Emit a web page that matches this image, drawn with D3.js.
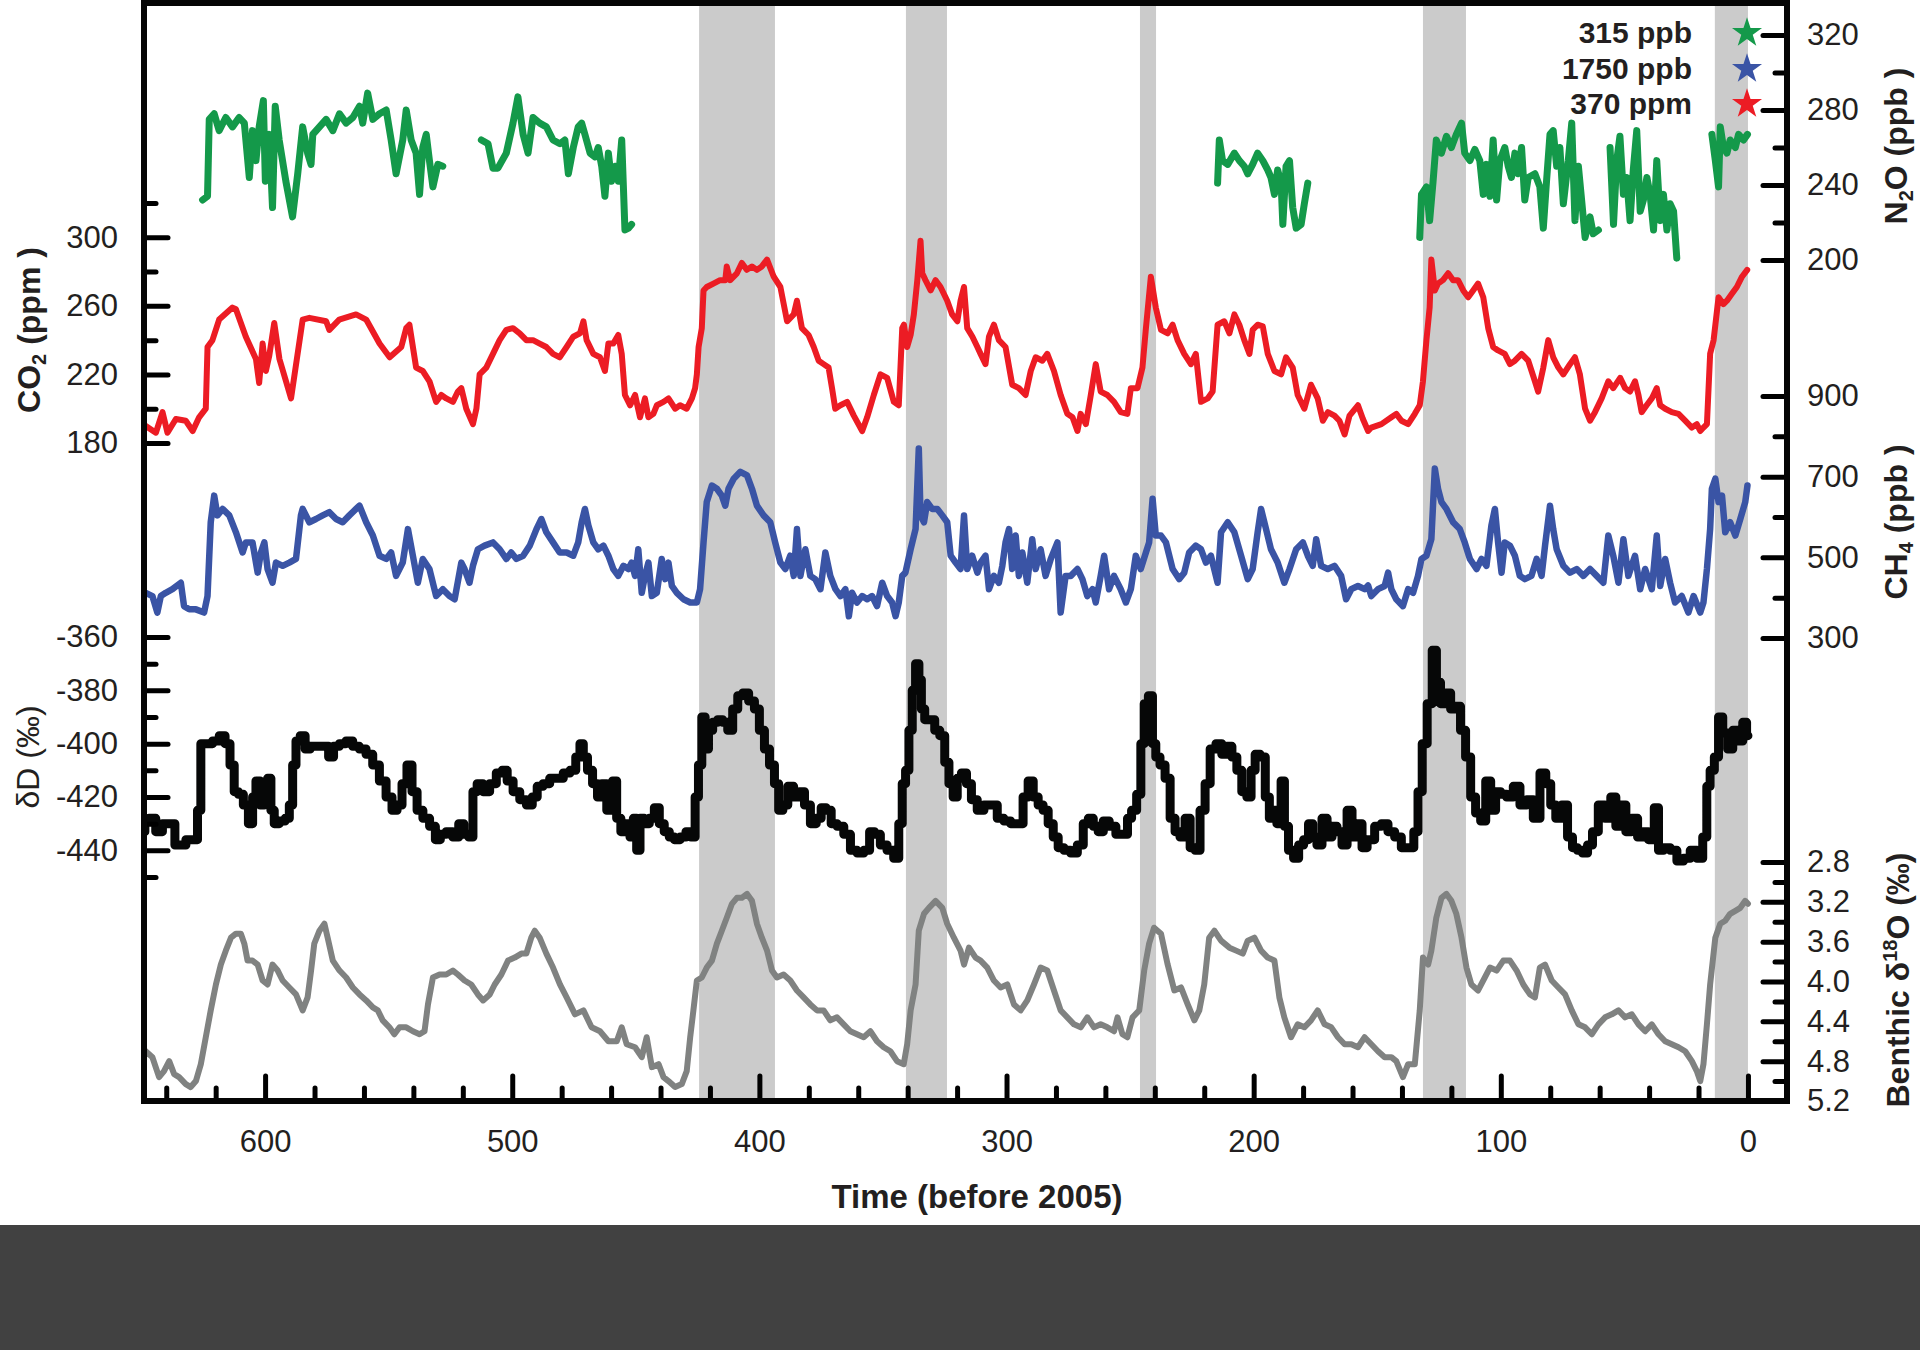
<!DOCTYPE html>
<html><head><meta charset="utf-8">
<script src="https://cdn.jsdelivr.net/npm/d3@7"></script>
<style>
html,body{margin:0;padding:0;background:#fff;}
svg{display:block;font-family:"Liberation Sans",Arial,Helvetica,sans-serif;}
</style></head><body>
<svg id="chart" width="1920" height="1350"></svg>
<script>
// ---------- tick values ----------
const timeMajorTicks = [600,500,400,300,200,100,0];
const timeMinorTicks = [640,620,580,560,540,520,480,460,440,420,380,360,340,320,280,260,240,220,180,160,140,120,80,60,40,20];
const co2MajorTicks = [180,220,260,300];
const co2MinorTicks = [200,240,280,320];
const dDMajorTicks = [-440,-420,-400,-380,-360];
const dDMinorTicks = [-450,-430,-410,-390,-370];
const n2oMajorTicks = [200,240,280,320];
const n2oMinorTicks = [220,260,300];
const ch4MajorTicks = [300,500,700,900];
const ch4MinorTicks = [400,600,800];
const d18OMajorTicks = [2.8,3.2,3.6,4.0,4.4,4.8,5.2];
const d18OMinorTicks = [3.0,3.4,3.8,4.2,4.6,5.0];

// interglacial periods (kyr before 2005)
const interglacials = [[424.4,393.7],[340.7,324.1],[246,239.5],[131.5,114.1],[13.4,0]];

// modern values legend
const modernLabels = ["315 ppb","1750 ppb","370 ppm"];

// ---------- records: [age (kyr), value] ----------
const n2oRecord = [[625.3,232],[623.3,234],[622.6,275],[620.6,278],[618.6,269],[615.9,276],[613.2,271],[610.5,276],[608.4,273],[606.4,244],[605.1,269],[603.7,253],[602.4,271],[600.7,285],[599.9,242],[598.3,267],[597,228],[595.9,282],[594.3,264],[591.6,242],[588.9,223],[586.8,246],[584.8,271],[582.8,257],[581.4,251],[580.7,267],[578,271],[575.3,275],[572.6,269],[569.9,278],[567.2,273],[564.5,276],[561.8,282],[560.5,273],[558.5,289],[556.4,275],[553.7,278],[551,280],[549,264],[547,246],[544.3,264],[542.9,280],[540.9,264],[538.9,257],[537.5,235],[536.2,260],[534.8,267],[533.5,253],[532.1,239],[530.1,251],[528.1,250],[520,null],
[512.5,264],[509.8,262],[507.8,249],[505.8,249],[502.4,257],[499.7,273],[497.7,287],[495.6,267],[493.6,257],[491.6,276],[488.9,273],[486.2,271],[483.5,264],[480.7,262],[478.7,264],[477.3,246],[475.3,260],[473.3,271],[471.9,273],[470.6,267],[468.5,257],[466.5,255],[465.2,260],[463.8,250],[462.5,234],[461.1,257],[459.8,242],[458.4,250],[457.1,242],[455.7,264],[454.4,216],[453,217],[451.7,219],[300,null],
[214.6,241],[213.9,264],[212.6,253],[210.5,251],[207.8,257],[205.8,253],[203.8,250],[202.4,246],[200.4,251],[198.4,257],[196.3,253],[194.3,248],[193,244],[191.6,235],[190.3,248],[188.9,241],[188.2,219],[186.9,250],[185.5,253],[184.2,228],[182.8,217],[180.8,219],[179.5,230],[178.1,241],[150,null],
[132.8,212],[132.1,235],[130.1,239],[128.8,221],[127.4,242],[126.1,264],[124,257],[122,266],[120,260],[118,267],[115.9,273],[114.6,257],[112.5,253],[110.5,259],[108.5,253],[107.1,235],[105.8,251],[104.4,234],[103.1,264],[101.7,232],[100.4,253],[98.4,260],[97,250],[95.7,244],[94.3,257],[93,246],[91.6,260],[90.3,232],[88.9,244],[86.2,246],[84.2,239],[82.8,217],[81.5,242],[80.1,267],[78.8,269],[77.4,250],[76.1,260],[74.7,230],[72.7,253],[71.3,273],[70,221],[68.6,250],[67.3,232],[65.9,212],[63.9,223],[62.6,214],[60.5,216],[58,null],
[55.8,260],[54.4,219],[53.1,253],[51.8,266],[50.4,235],[49.1,244],[47.7,221],[46.4,248],[45,269],[43.6,226],[42.3,232],[40.9,244],[39.6,235],[38.2,216],[36.9,253],[35.5,221],[34.2,235],[32.8,216],[31.5,230],[30.1,226],[28.8,201],[20,null],
[14.6,267],[13.2,253],[11.9,239],[11.2,271],[9.9,260],[8.5,257],[7.2,264],[5.1,260],[3.8,267],[1.8,264],[0.2,267]];

const co2Record = [[648.4,190],[644.2,186],[641.5,198],[639.5,186],[636.1,194],[632.1,193],[629.3,187],[626.7,195],[624,200],[623.3,236],[621.3,240],[618.6,252],[613.2,259],[611.8,258],[607.8,242],[603.7,229],[602.4,215],[601,238],[599.7,222],[598.3,231],[596.3,250],[594.2,229],[589.5,206],[584.8,252],[582.1,253],[575.3,251],[574,246],[570,252],[563.2,255],[559.1,252],[553.7,238],[549.6,230],
[544.9,236],[542.9,247],[541.6,249],[538.9,224],[536.2,222],[533.5,216],[530.8,204],[528.7,208],[526.7,206],[524,204],[522,210],[520.6,212],[518.6,200],[515.9,191],[514.5,200],[513.2,220],[510.5,224],[507.8,232],[505.1,240],[502.4,246],[499.7,247],[497,244],[494.3,240],[491.6,240],[488.9,238],[486.2,236],[483.5,232],[480.8,230],
[478,236],[475.3,242],[472.6,244],[471.2,251],[469.9,240],[467.2,232],[464.5,230],[462.5,222],[461.1,238],[459.1,238],[457.1,243],[455.7,232],[454.4,208],[452.3,202],[450.3,208],[448.3,195],[446.3,206],[444.9,195],[442.9,197],[441.5,202],[438.8,204],[436.8,206],[434.1,200],[432.1,202],[429.4,200],[427.3,206],[426,212],[425.3,220],[424.6,236],[423.3,247],[422.6,269],[421.3,271],[418.6,273],[415.9,275],[413.8,275],[413.2,283],[411.8,275],[409.1,279],[407.1,285],[405.1,281],[403,283],[401,281],[399,283],[396.9,287],[394.2,277],[391.5,271],[388.8,251],[386.1,255],[384.8,263],[382.8,247],[380.1,243],[378,236],[376,228],[374,226],[372,224],[370.6,212],[369.3,200],[367.2,202],[364.5,204],[361.8,196],[358.4,187],[356.4,195],[353.7,208],[351,220],[348.3,218],[345.6,204],[343.6,202],[342.2,247],[341.5,249],[340.2,236],[338.8,243],[337.5,255],[336.1,275],[334.8,298],[334.1,279],[332.8,275],[330.7,269],[328.7,275],[326.7,271],[324,263],[322,255],[319.9,251],[318.6,263],[317.2,271],[315.9,247],[313.8,242],[311.8,236],[310.5,232],
[308.5,226],[307.1,242],[305.1,249],[303.1,240],[300.4,236],[297.7,214],[295,212],[292.3,208],[290.2,222],[288.2,230],[285.5,228],[283.5,232],[280.8,222],[278.1,208],[275.4,197],[273.3,195],[271.3,187],[270,197],[267.9,191],[265.9,208],[263.9,226],[261.9,210],[259.2,208],[256.5,204],[253.8,198],[251.1,197],[249.7,212],[247,212],[245,224],[243.6,247],[241.6,277],[239.6,259],[237.5,246],[234.8,244],[232.8,249],[230.8,240],[228.1,232],[225.4,226],[223.4,232],[221.3,204],[218.6,206],[216.6,210],[214.6,249],[211.9,251],[209.8,244],[207.8,255],[205.8,249],[203.8,240],[201.7,232],[200.4,246],[198.4,249],[196.3,248],[194.3,232],[191.6,222],[188.9,220],[186.9,230],[184.2,224],[182.2,208],[179.5,200],[176.8,214],[174.1,206],[172,193],[170,198],[167.3,196],[165.3,193],[163.2,185],[161.2,196],[157.8,202],[155.8,194],[153.7,187],
[152.4,189],[148.3,191],[144.3,195],[142.3,197],[140.2,193],[137.5,191],[134.8,197],[132.8,202],[131.5,216],[130.1,240],[128.8,259],[128.1,287],[126.7,269],[125.4,273],[123.4,275],[121.3,279],[119.3,275],[117.3,275],[115.2,269],[113.2,265],[111.2,269],[109.2,273],[107.1,265],[105.1,247],[103.1,236],[101.1,234],[98.4,232],[96.3,226],[94.3,228],[91.6,232],[88.9,228],[86.2,216],[84.9,210],[82.8,224],[80.8,240],[78.8,230],[76.7,224],[74.7,220],[72,226],[70,230],[68,220],[65.9,200],[63.9,193],[61.9,198],[59.2,206],[56.5,216],[54.5,212],[51.7,218],[49.7,212],[47.7,210],[45.7,216],[44.3,208],[43,198],[41,202],[38.9,206],[36.9,212],[35.5,202],[33.5,200],[30.8,198],[28.1,197],[25.4,193],[22.7,189],[20.7,191],[19.3,187],[18,189],[16.6,191],[15.3,232],[13.9,240],[11.9,265],[9.9,261],[8.5,263],[6.5,267],[4.5,271],[2.4,277],[0.3,281]];

const ch4Record = [[648.3,412],[645.6,404],[643.6,363],[642.2,404],[640.2,412],[637.5,421],[634.1,437],[632.8,379],[630.7,371],[628,371],[624.7,363],[623.3,404],[622,587],[620.6,653],[619.3,604],[617.2,620],[614.5,604],[611.8,562],[609.1,512],[607.8,537],[605.1,537],[603,462],[601.7,512],[600.3,537],[599,471],[597,437],[595.6,487],[592.9,479],[590.2,487],[587.5,496],[585.5,604],[584.8,620],[582.1,587],[579.4,595],[576.7,604],[574,612],[571.3,595],[568.6,587],[565.9,604],[563.2,620],[561.8,628],[559.1,587],[556.4,554],[553.7,504],[551,496],[549,512],[547,454],[544.3,487],[542.2,570],[540.2,504],[538.2,437],[536.2,496],[533.5,471],[530.8,404],[528.1,421],[525.4,404],[523.3,396],[520.6,487],[519.3,471],[517.3,437],[515.9,479],[513.9,520],[511.2,529],[507.8,537],[505.1,520],[502.4,496],[500.4,512],[498.3,496],[495.6,504],[492.9,529],[490.2,570],[488.2,595],[486.2,562],[483.5,537],[480.8,512],
[478,512],[475.3,504],[473.3,537],[471.9,587],[470.6,620],[469.2,579],[467.2,537],[465.2,520],[463.1,529],[461.1,504],[459.1,471],[457.1,454],[455,479],[453,471],[451.7,487],[450.3,454],[449,520],[447.6,412],[446.3,454],[444.9,487],[443.5,404],[441.5,412],[439.5,496],[438.1,446],[436.8,487],[435.4,429],[433.4,412],[430.7,396],[428,388],[425.3,388],[424,421],[422.6,537],[421.3,637],[419.2,678],[417.2,670],[415.2,653],[413.8,628],[412.5,670],[410.4,695],[407.7,712],[405,703],[403,670],[401,628],[398.3,604],[395.6,587],[393.6,537],[391.5,487],[389.5,471],[387.5,504],[386.1,454],[384.8,570],[383.4,454],[381.4,520],[379.4,454],[377.4,446],[375.3,421],[373.3,512],[371.3,454],[369.2,421],[367.2,404],[365.2,421],[363.8,354],[362.5,412],[360.5,388],[358.4,404],[356.4,396],[354.4,404],[352.4,379],[350.3,437],[348.3,404],[346.3,388],[344.9,354],[343.6,388],[342.2,454],[340.9,462],[338.8,520],[336.8,570],[335.5,770],[334.8,604],[333.4,587],[332.1,637],[330.1,620],[328,620],[326,604],[324,587],[322.6,504],[320.6,487],[318.6,471],[317.2,604],[315.9,471],[313.9,504],[311.8,462],[310.5,487],
[308.5,504],[307.1,421],[305.1,454],[303.1,437],[301.7,479],[300.4,537],[299,570],[297.7,471],[296.3,554],[295,454],[293.6,512],[291.6,437],[289.6,545],[288.2,471],[286.2,520],[284.2,454],[282.1,496],[279.4,537],[278.1,363],[276.1,454],[274,454],[271.3,471],[269.3,446],[267.3,404],[265.2,421],[263.9,388],[261.9,454],[260.5,504],[258.5,421],[256.5,454],[253.8,421],[251.7,388],[249.7,421],[247.7,504],[245.7,471],[243.6,512],[242.3,537],[240.9,645],[239.6,554],[237.5,554],[235.5,537],[232.8,471],[230.1,446],[228.1,462],[226.1,512],[223.4,529],[221.3,520],[219.3,487],[217.3,504],[214.6,437],[213.2,562],[210.5,587],[207.8,562],[205.1,504],[202.4,446],[200.4,471],[198.4,562],[197,620],[195,570],[193,520],[190.3,487],[187.6,437],[185.5,471],[182.8,520],[180.1,537],[178.1,504],[176.1,479],[174.7,545],[172.7,479],[170,471],[167.3,479],[164.6,454],[162.6,396],[160.5,421],[157.8,429],[155.1,421],[153.7,430],
[152.4,404],[149.7,421],[147,429],[145.6,462],[144.3,421],[142.3,396],[139.6,379],[137.5,421],[135.5,412],[133.5,454],[132.1,496],[130.1,504],[128.1,545],[126.7,720],[125.4,670],[124,637],[122,620],[119.3,587],[116.6,570],[114.6,537],[112.5,496],[109.8,471],[107.8,496],[105.8,479],[103.8,579],[102.4,620],[101.1,537],[99.7,462],[98.4,537],[96.3,529],[94.3,504],[92.3,454],[90.3,446],[87.6,454],[85.5,496],[83.5,454],[82.1,529],[80.1,628],[78.8,570],[77.4,520],[74.7,479],[72,462],[69.3,471],[66.6,454],[63.9,471],[61.2,454],[58.5,437],[56.5,554],[54.5,504],[52.4,437],[50.4,545],[48.4,454],[45.7,504],[43.6,421],[41.6,471],[38.9,421],[36.9,554],[35.5,429],[33.5,496],[31.5,437],[29.5,388],[26.8,404],[24.1,363],[22,404],[19.3,363],[18,388],[16.6,471],[15.3,570],[14.6,670],[13.2,695],[11.9,637],[10.5,653],[9.2,562],[7.2,587],[5.1,554],[3.1,595],[1.1,637],[0.2,678]];

const dDRecord = [[649,-433],[648.3,-429],[645.6,-428],[642.9,-433],[640.2,-430],[637.5,-430],[635.5,-438],[633.4,-438],[630.7,-436],[628,-436],[626.7,-425],[625.3,-400],[622.6,-400],[619.9,-399],[617.2,-397],[615.2,-400],[613.2,-408],[611.8,-418],[609.8,-419],[607.8,-423],[605.7,-430],[604.4,-420],[603,-414],[601,-423],[599.7,-415],[598.3,-413],[597,-425],[595.6,-430],[592.9,-429],[590.9,-428],[589.5,-423],[588.2,-408],[586.8,-399],[584.8,-397],[582.8,-402],[580.7,-401],[578,-401],[575.3,-401],[573.3,-405],[571.3,-401],[568.6,-400],[565.9,-399],[563.2,-401],[560.5,-402],[557.8,-404],[555.1,-408],[552.4,-414],[549.7,-420],[547.6,-425],[545.6,-423],[543.6,-415],[541.6,-408],[539.5,-418],[537.5,-425],[534.8,-428],[532.1,-431],[530.1,-436],[528.1,-434],[525.4,-433],[522.7,-435],[520.6,-430],[518.6,-434],[516.6,-435],[515.2,-418],[513.2,-415],[510.5,-418],[507.8,-415],[505.1,-411],[503.1,-410],[501,-414],[498.3,-418],[495.6,-421],[492.9,-423],[490.9,-420],[488.9,-416],[486.2,-415],[483.5,-413],
[480.7,-413],[478,-411],[475.3,-410],[473.3,-405],[471.9,-400],[470.6,-405],[468.5,-410],[466.5,-415],[464.5,-420],[463.1,-415],[460.4,-425],[458.4,-414],[457.1,-428],[455,-433],[453,-430],[451.7,-435],[450.3,-428],[449,-440],[447.6,-428],[445.6,-430],[443.5,-428],[441.5,-424],[439.5,-430],[437.5,-433],[435.4,-435],[433.4,-436],[430.7,-435],[428.7,-433],[426.7,-435],[425.3,-420],[424,-408],[422.6,-390],[421.3,-402],[419.9,-395],[417.9,-392],[415.9,-391],[413.8,-392],[411.8,-395],[409.8,-387],[407.7,-382],[405.7,-381],[403,-384],[401,-387],[399,-395],[396.9,-402],[394.9,-408],[392.9,-415],[391.5,-425],[389.5,-423],[387.5,-416],[384.8,-420],[382.8,-418],[380.7,-423],[378,-430],[376,-428],[374,-424],[372,-425],[369.9,-430],[367.2,-431],[364.5,-434],[361.8,-440],[359.1,-441],[356.4,-440],[354.4,-433],[352.4,-434],[349.7,-438],[347,-440],[344.3,-443],[342.9,-430],[341.5,-415],[340.2,-410],[338.8,-395],[337.5,-380],[336.1,-370],[334.8,-376],[334.1,-387],[332.1,-391],[330.1,-391],[328,-395],[326,-397],[324,-407],[322.6,-415],[320.6,-420],[319.3,-413],[317.2,-411],[315.2,-415],[313.2,-421],[310.5,-425],
[307.8,-423],[305.1,-423],[302.4,-428],[299.7,-429],[297,-430],[294.3,-430],[292.3,-420],[290.2,-414],[288.2,-420],[286.2,-423],[284.2,-425],[282.1,-430],[280.1,-435],[278.1,-439],[275.4,-440],[272.7,-441],[270,-438],[267.9,-430],[265.9,-428],[263.9,-431],[261.9,-433],[259.8,-429],[257.1,-431],[254.4,-434],[251.7,-434],[250.4,-428],[248.4,-425],[246.3,-419],[245,-400],[243.6,-385],[241.6,-382],[240.3,-400],[238.9,-405],[236.9,-408],[234.8,-413],[232.8,-428],[230.8,-433],[228.8,-435],[226.7,-428],[224.7,-439],[222.7,-440],[220.7,-425],[218.6,-415],[216.6,-402],[213.9,-400],[211.9,-404],[209.8,-401],[207.8,-405],[205.8,-410],[203.8,-418],[201.7,-420],[200.4,-410],[198.4,-404],[196.3,-405],[194.3,-420],[193,-428],[191.6,-425],[189.6,-430],[188.2,-414],[186.9,-431],[184.9,-440],[182.8,-443],[180.8,-438],[178.8,-436],[176.8,-430],[175.4,-435],[173.4,-438],[171.3,-428],[169.3,-435],[167.3,-431],[165.3,-433],[163.2,-438],[161.2,-425],[159.2,-435],[157.2,-430],[155.1,-439],[153.1,-436],
[152.4,-436],[149.7,-431],[147,-430],[144.3,-433],[141.6,-435],[138.9,-439],[136.2,-439],[134.2,-433],[132.8,-418],[130.8,-400],[128.8,-385],[126.7,-365],[125.4,-377],[123.4,-385],[121.3,-381],[119.3,-387],[117.3,-386],[115.3,-395],[113.2,-405],[111.2,-420],[109.2,-426],[107.1,-429],[105.1,-414],[103.1,-425],[101.1,-418],[99,-419],[96.3,-420],[93.6,-416],[90.9,-423],[88.2,-421],[85.5,-428],[82.8,-411],[80.8,-415],[78.8,-423],[76.7,-428],[74,-423],[72,-435],[70,-439],[68,-440],[65.9,-441],[63.9,-438],[61.9,-433],[59.2,-423],[56.5,-428],[54.5,-420],[52.4,-431],[50.4,-423],[48.4,-433],[45.7,-428],[43.6,-435],[41.6,-433],[38.9,-436],[36.9,-424],[35.5,-440],[32.8,-439],[30.1,-440],[27.4,-444],[24.7,-443],[22,-440],[19.3,-443],[17.3,-435],[16,-416],[14.6,-410],[12.6,-405],[11.2,-390],[9.2,-396],[7.2,-402],[5.1,-395],[3.1,-399],[1.1,-392],[0,-397]];

const d18ORecord = [[649,4.76],[648.3,4.70],[645.6,4.76],[642.9,4.96],[640.9,4.90],[638.8,4.80],[636.8,4.93],[634.8,4.96],[632.1,5.03],[630.1,5.06],[628,5.00],[626,4.83],[624,4.56],[622,4.29],[619.9,4.03],[617.9,3.83],[615.9,3.69],[613.8,3.56],[611.8,3.52],[609.8,3.52],[608.4,3.62],[607.1,3.79],[605.1,3.79],[603,3.83],[601,3.99],[599,4.03],[597,3.83],[594.9,3.89],[592.9,3.99],[590.2,4.06],[587.5,4.13],[584.8,4.29],[582.8,4.16],[581.4,3.89],[580.1,3.62],[578,3.49],[576,3.42],[574.7,3.56],[572.6,3.79],[569.9,3.89],[567.2,3.96],[564.5,4.06],[561.8,4.13],[559.1,4.19],[556.4,4.26],[554.4,4.29],[552.4,4.39],[549.7,4.46],[547.7,4.53],[545.6,4.46],[542.9,4.46],[540.2,4.50],[537.5,4.53],[535.5,4.50],[534.1,4.23],[532.1,3.96],[529.4,3.93],[526.7,3.93],[524,3.89],[522,3.93],[519.3,3.99],[516.6,4.03],[513.9,4.13],[511.8,4.19],[509.1,4.13],[507.1,4.03],[504.4,3.93],[501.7,3.79],[499,3.76],[496.3,3.72],[494.3,3.72],[492.3,3.56],[490.9,3.49],[488.9,3.56],[486.2,3.72],[483.5,3.86],
[480.7,4.03],[478,4.16],[474.6,4.33],[471.2,4.29],[467.9,4.46],[464.5,4.50],[461.1,4.60],[457.7,4.60],[455.7,4.46],[453.7,4.63],[450.3,4.66],[447.6,4.76],[445.6,4.56],[443.5,4.86],[440.8,4.83],[438.8,4.96],[436.8,5.00],[434.1,5.06],[431.4,5.03],[429.4,4.90],[428,4.56],[426.7,4.29],[425.3,3.99],[423.3,3.96],[421.3,3.86],[419.2,3.79],[417.2,3.62],[415.2,3.49],[413.2,3.36],[411.1,3.22],[409.1,3.16],[407.1,3.16],[405,3.12],[403,3.19],[401,3.42],[399,3.56],[396.9,3.69],[394.9,3.89],[392.9,3.96],[390.2,3.93],[387.5,3.99],[384.8,4.09],[382.1,4.16],[379.4,4.23],[376.7,4.29],[374,4.29],[371.3,4.39],[368.6,4.36],[365.9,4.43],[363.2,4.50],[360.5,4.53],[357.8,4.56],[355.1,4.50],[352.4,4.60],[349.7,4.66],[347,4.70],[344.3,4.80],[341.6,4.83],[340.2,4.63],[338.8,4.29],[336.8,4.03],[335.5,3.49],[333.4,3.32],[331.4,3.26],[328.7,3.19],[326,3.26],[324,3.42],[321.3,3.56],[318.6,3.69],[317.2,3.83],[315.2,3.66],[312.5,3.76],[310.5,3.79],
[307.8,3.86],[305.1,3.99],[302.4,4.06],[299.7,4.03],[297,4.23],[294.3,4.29],[291.6,4.19],[288.9,4.03],[286.2,3.86],[283.5,3.89],[280.8,4.09],[278.1,4.29],[275.4,4.36],[272.7,4.43],[270,4.46],[267.3,4.36],[264.6,4.46],[261.9,4.43],[259.2,4.46],[256.5,4.50],[255.1,4.36],[253.1,4.53],[251.1,4.56],[249,4.36],[246.3,4.29],[244.3,3.89],[242.3,3.62],[240.3,3.46],[237.5,3.52],[234.8,3.83],[232.1,4.09],[229.4,4.06],[226.7,4.23],[224,4.39],[222,4.29],[220,4.03],[218,3.56],[215.9,3.49],[213.2,3.59],[209.8,3.66],[207.1,3.69],[204.4,3.72],[202.4,3.59],[199.7,3.56],[197,3.69],[194.3,3.76],[191.6,3.79],[189.6,4.16],[187.6,4.36],[184.9,4.56],[182.2,4.43],[179.5,4.46],[176.8,4.39],[174.1,4.29],[171.3,4.43],[168.6,4.46],[165.9,4.56],[163.2,4.63],[160.5,4.63],[157.8,4.66],[155.1,4.56],
[152.4,4.63],[149.7,4.70],[147,4.76],[144.3,4.76],[142.3,4.80],[139.6,4.96],[137.5,4.83],[134.8,4.83],[132.8,4.29],[131.5,3.76],[129.4,3.83],[128.1,3.69],[126.1,3.36],[124,3.16],[122,3.12],[120,3.19],[118,3.32],[115.9,3.56],[113.9,3.86],[111.9,4.03],[109.2,4.09],[106.5,3.96],[104.4,3.86],[101.7,3.89],[99,3.79],[96.3,3.79],[93.6,3.89],[90.9,4.03],[88.2,4.13],[86.2,4.16],[84.2,3.86],[82.1,3.83],[79.4,3.99],[76.7,4.06],[74,4.13],[71.3,4.29],[68.6,4.43],[65.9,4.46],[63.2,4.53],[60.5,4.43],[57.8,4.36],[55.1,4.33],[52.4,4.29],[49.7,4.36],[47,4.33],[44.3,4.43],[41.6,4.50],[38.9,4.43],[36.2,4.53],[33.5,4.60],[30.8,4.63],[28.1,4.66],[25.4,4.70],[22.7,4.80],[20.7,4.90],[19.3,5.00],[18,4.83],[16.6,4.43],[15.3,4.03],[13.2,3.56],[11.2,3.42],[9.2,3.39],[7.2,3.32],[5.1,3.29],[3.1,3.26],[1.1,3.19],[0,3.22]];

// ---------- drawing ----------
const W = 1920, H = 1350;
const L = 144, R = 1787, T = 3, B = 1101;
const GREEN = "#14994a", RED = "#ec1c24", BLUE = "#3a54a5", BLACK = "#060707", GREY = "#808281";
const TXT = "#231f20";

const svg = d3.select("#chart");
svg.append("rect").attr("width", W).attr("height", H).attr("fill", "#fff");

const x = d3.scaleLinear().domain([649, -15.8]).range([L, R]);
const yN2O = d3.scaleLinear().domain([200, 320]).range([260, 35]);
const yCO2 = d3.scaleLinear().domain([180, 320]).range([443, 203]);
const yCH4 = d3.scaleLinear().domain([300, 900]).range([638, 396]);
const ydD  = d3.scaleLinear().domain([-450, -360]).range([877, 637]);
const yO18 = d3.scaleLinear().domain([2.8, 5.2]).range([862, 1101]);

svg.append("defs").append("clipPath").attr("id", "plotclip")
  .append("rect").attr("x", L).attr("y", T).attr("width", R - L).attr("height", B - T);

// interglacial bands
svg.append("g").selectAll("rect").data(interglacials).join("rect")
  .attr("x", d => x(d[0])).attr("width", d => x(d[1]) - x(d[0]))
  .attr("y", T).attr("height", B - T).attr("fill", "#cbcbcb");

const plot = svg.append("g").attr("clip-path", "url(#plotclip)");
function drawLine(data, yScale, color, width, curve) {
  const line = d3.line()
    .defined(d => d[1] !== null)
    .x(d => x(d[0])).y(d => yScale(d[1]))
    .curve(curve || d3.curveLinear);
  plot.append("path").datum(data)
    .attr("d", line).attr("fill", "none")
    .attr("stroke", color).attr("stroke-width", width)
    .attr("stroke-linejoin", "round").attr("stroke-linecap", "round");
}
drawLine(n2oRecord, yN2O, GREEN, 7);
drawLine(co2Record, yCO2, RED, 6);
drawLine(ch4Record, yCH4, BLUE, 6.5);
drawLine(dDRecord, ydD, BLACK, 9, d3.curveStep);
drawLine(d18ORecord, yO18, GREY, 6);

// ---------- axes ----------
function ticks(axis, tx, ty) {
  const g = svg.append("g").attr("transform", `translate(${tx},${ty})`).call(axis);
  g.select(".domain").remove();
  g.selectAll(".tick line").attr("stroke", "#000").attr("stroke-width", 5).attr("stroke-linecap", "round");
  return g;
}
function labels(axis, tx, ty) {
  const g = svg.append("g").attr("transform", `translate(${tx},${ty})`).call(axis);
  g.select(".domain").remove();
  g.selectAll(".tick line").remove();
  g.attr("font-size", 31).attr("font-family", '"Liberation Sans", Arial, sans-serif');
  g.selectAll("text").attr("fill", TXT);
  return g;
}
const MAJ = 24, MIN = 12;
// left: CO2
ticks(d3.axisRight(yCO2).tickValues(co2MajorTicks).tickSize(MAJ).tickFormat(""), L, 0);
ticks(d3.axisRight(yCO2).tickValues(co2MinorTicks).tickSize(MIN).tickFormat(""), L, 0);
labels(d3.axisLeft(yCO2).tickValues(co2MajorTicks).tickSize(0).tickPadding(26), L, 0);
// left: dD
ticks(d3.axisRight(ydD).tickValues(dDMajorTicks).tickSize(MAJ).tickFormat(""), L, 0);
ticks(d3.axisRight(ydD).tickValues(dDMinorTicks).tickSize(MIN).tickFormat(""), L, 0);
labels(d3.axisLeft(ydD).tickValues(dDMajorTicks).tickSize(0).tickPadding(26).tickFormat(d => "-" + Math.abs(d)), L, 0);
// right: N2O
ticks(d3.axisLeft(yN2O).tickValues(n2oMajorTicks).tickSize(MAJ).tickFormat(""), R, 0);
ticks(d3.axisLeft(yN2O).tickValues(n2oMinorTicks).tickSize(MIN).tickFormat(""), R, 0);
labels(d3.axisRight(yN2O).tickValues(n2oMajorTicks).tickSize(0).tickPadding(20), R, 0);
// right: CH4
ticks(d3.axisLeft(yCH4).tickValues(ch4MajorTicks).tickSize(MAJ).tickFormat(""), R, 0);
ticks(d3.axisLeft(yCH4).tickValues(ch4MinorTicks).tickSize(MIN).tickFormat(""), R, 0);
labels(d3.axisRight(yCH4).tickValues(ch4MajorTicks).tickSize(0).tickPadding(20), R, 0);
// right: benthic d18O
ticks(d3.axisLeft(yO18).tickValues(d18OMajorTicks).tickSize(MAJ).tickFormat(""), R, 0);
ticks(d3.axisLeft(yO18).tickValues(d18OMinorTicks).tickSize(MIN).tickFormat(""), R, 0);
labels(d3.axisRight(yO18).tickValues(d18OMajorTicks).tickSize(0).tickPadding(20).tickFormat(d3.format(".1f")), R, 0);
// bottom: time
ticks(d3.axisTop(x).tickValues(timeMajorTicks).tickSize(25).tickFormat(""), 0, B);
ticks(d3.axisTop(x).tickValues(timeMinorTicks).tickSize(13).tickFormat(""), 0, B);
labels(d3.axisBottom(x).tickValues(timeMajorTicks).tickSize(0).tickPadding(29), 0, B);

// frame
svg.append("rect").attr("x", L).attr("y", T).attr("width", R - L).attr("height", B - T)
  .attr("fill", "none").attr("stroke", "#050505").attr("stroke-width", 6);

// ---------- titles ----------
function vTitle(cx, cy, parts, weight) {
  const t = svg.append("text")
    .attr("transform", `translate(${cx},${cy}) rotate(-90)`)
    .attr("text-anchor", "middle").attr("font-size", 32)
    .attr("font-weight", weight).attr("fill", TXT);
  parts.forEach(p => {
    const s = t.append("tspan").text(p.t);
    if (p.sub) s.attr("font-size", 20).attr("dy", 6);
    if (p.sup) s.attr("font-size", 20).attr("dy", -12);
    if (p.back) s.attr("dy", p.back);
  });
  return t;
}
vTitle(40, 330, [{t: "CO"}, {t: "2", sub: true}, {t: " (ppm )", back: -6}], "bold");
vTitle(39, 757, [{t: "\u03b4D (\u2030)"}], "normal");
vTitle(1907, 146, [{t: "N"}, {t: "2", sub: true}, {t: "O (ppb )", back: -6}], "bold");
vTitle(1907, 522, [{t: "CH"}, {t: "4", sub: true}, {t: " (ppb )", back: -6}], "bold");
vTitle(1909, 980, [{t: "Benthic \u03b4"}, {t: "18", sup: true}, {t: "O (\u2030)", back: 12}], "bold");

svg.append("text").attr("x", 977).attr("y", 1208).attr("text-anchor", "middle")
  .attr("font-size", 33).attr("font-weight", "bold").attr("fill", TXT)
  .text("Time (before 2005)");

// ---------- modern value legend ----------
const legendColors = [GREEN, BLUE, RED];
const legendY = [33, 69, 104];
const lg = svg.append("g");
lg.selectAll("text").data(modernLabels).join("text")
  .attr("x", 1692).attr("y", (d, i) => legendY[i] + 10)
  .attr("text-anchor", "end").attr("font-size", 30).attr("font-weight", "bold")
  .attr("fill", TXT).text(d => d);
lg.selectAll("path").data(modernLabels).join("path")
  .attr("transform", (d, i) => `translate(1747,${legendY[i]})`)
  .attr("d", d3.symbol(d3.symbolStar, 280))
  .attr("fill", (d, i) => legendColors[i]);

// footer band
svg.append("rect").attr("x", 0).attr("y", 1225).attr("width", W).attr("height", 125).attr("fill", "#414141");
</script>
</body></html>
